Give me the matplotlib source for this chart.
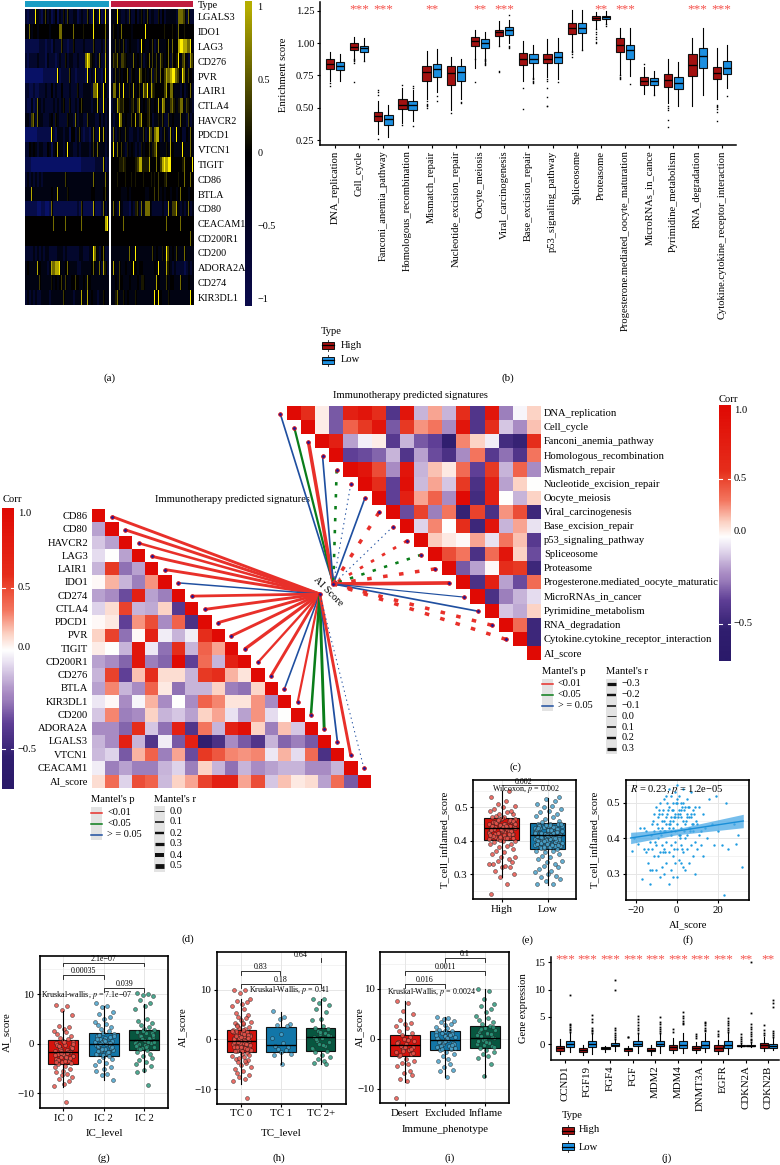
import numpy as np
import matplotlib
matplotlib.use("Agg")
import matplotlib.pyplot as plt
from matplotlib.colors import LinearSegmentedColormap
from matplotlib.patches import Rectangle

plt.rcParams['font.family'] = ['Liberation Serif', 'DejaVu Serif']
plt.rcParams['mathtext.fontset'] = 'stix'
W, H = 780, 1165
fig = plt.figure(figsize=(W/100, H/100), dpi=100)

# ---------- panel a data ----------
heat_genes = ['LGALS3','IDO1','LAG3','CD276','PVR','LAIR1','CTLA4','HAVCR2','PDCD1','VTCN1','TIGIT','CD86','BTLA','CD80','CEACAM1','CD200R1','CD200','ADORA2A','CD274','KIR3DL1']
heat_low = [
"212229321362312413252622331232262193291292","437344344444344447744444744445444494444473",
"111111122212213222622122522223222262223272","212222322213222123225233223222798532372282",
"000000000111111191222262212222192329221392","221121122232242322422232225223333277932932",
"211312732322223232352252232463333233822923","332672733222342532222533272332263332242323",
"000000111111192133323314423621221372293823","224343233224313483323933223233332363733323",
"111000000000000000000000000011111112222812","232323232333333333336333333333333373333373",
"333833333333343383333533333333333443333463","111111001100171111111111112161111181112723",
"444444444444447444447444444474444444444489","444444444444444444444444444444444444444444",
"222232323233222233323222222332223397324722","343333843332387889334733332233333473372852",
"333333363333353434636334464334374333333333","232323223333233333363333233383383433233533"]
heat_high = [
"333932232622423523623322524233333277762722","354347444434444449444444444544454374454444",
"336353623433323943343623733347374489988793","365736653337343623473636375347264593673286",
"236353447254338645347256374687899763973643","377383933538346386938654444684773332423472",
"233865644356368343563343838733675357736532","323397343364836844564233536226343337332623",
"272353363223323362386378823632823934224373","393746325343232534463568433353843333933373",
"444455654444568855584447468989944444574449","444544454454544454445454644564444454474474",
"444443334344444443344464634344344347444344","373283222132562737773222223228366832323723",
"444444744444444444444444444474444447444444","444444444444444444444444444444444444444474",
"333333333733933333333634335396343633373333","383363343349434433333343933385323222212323",
"334364333433343553333338433363443337333433","335733534333533333333394943335333333333394"]
heat_levels = [-.85,-.6,-.38,-.15,0,.1,.25,.45,.7,1]

# ---------- panel b data ----------
path_names = ['DNA_replication','Cell_cycle','Fanconi_anemia_pathway','Homologous_recombination','Mismatch_repair','Nucleotide_excision_repair','Oocyte_meiosis','Viral_carcinogenesis','Base_excision_repair','p53_signaling_pathway','Spliceosome','Proteasome','Progesterone.mediated_oocyte_maturation','MicroRNAs_in_cance','Pyrimidine_metabolism','RNA_degradation','Cytokine.cytokine_receptor_interaction']
path_stars = ['','***','***','','**','','**','***','','','','**','***','','','***','***']
path_high = [
(.71,.80,.84,.875,.93,[.665,.69]),(.88,.95,.97,1.0,1.05,[.70,.85,.86,.87,.88]),(.30,.40,.435,.47,.55,[.26,.60,.62,.64]),
(.38,.49,.525,.565,.65,[.365,.68]),(.57,.71,.78,.82,.94,[.50,.51,.52,.53,.55]),(.48,.68,.77,.825,.89,[.46]),
(.805,.98,1.02,1.045,1.10,[.70,.875]),(.985,1.06,1.085,1.105,1.17,[.78,.785,.98]),(.71,.835,.875,.925,1.02,[.49,.655]),
(.74,.845,.88,.915,1.035,[.51,.515,.58,.655,.71,.72]),(.945,1.07,1.115,1.16,1.26,[.89,.92,.93,.94]),(1.12,1.18,1.195,1.21,1.24,[1.0,1.01,1.03,1.05,1.07,1.09,1.11]),
(.755,.93,.99,1.04,1.12,[.72,.73,.74,.75]),(.605,.675,.705,.735,.815,[.84]),(.535,.66,.715,.76,.88,[.35,.405,.48,.50,.515]),
(.51,.745,.835,.92,1.04,[]),(.57,.72,.77,.815,.96,[.40,.47,.49,.505,.515,.525])]
path_low = [
(.705,.79,.825,.855,.92,[]),(.87,.935,.96,.98,1.04,[.86]),(.275,.365,.41,.44,.525,[]),
(.40,.48,.52,.55,.64,[.36,.65,.67]),(.62,.74,.80,.84,.955,[.55,.59]),(.57,.71,.775,.82,.88,[.535,.545]),
(.855,.965,1.0,1.03,1.09,[.83,.84,.85,.86,.87,.88]),(1.0,1.065,1.10,1.125,1.18,[.96,.97,.98,1.22]),(.725,.85,.88,.92,.99,[.695,.70,.71,.72,.73]),
(.725,.85,.89,.935,1.04,[.70]),(.95,1.08,1.115,1.16,1.26,[.945]),(1.15,1.19,1.205,1.215,1.25,[1.13,1.15]),
(.745,.88,.945,.99,1.115,[.685]),(.61,.68,.705,.73,.785,[.60]),(.515,.645,.695,.74,.855,[]),
(.60,.805,.90,.965,1.12,[]),(.655,.76,.81,.86,.985,[.59])]

# ---------- panel c data ----------
c_names = ['DNA_replication','Cell_cycle','Fanconi_anemia_pathway','Homologous_recombination','Mismatch_repair','Nucleotide_excision_repair','Oocyte_meiosis','Viral_carcinogenesis','Base_excision_repair','p53_signaling_pathway','Spliceosome','Proteasome','Progesterone.mediated_oocyte_maturatic','MicroRNAs_in_cancer','Pyrimidine_metabolism','RNA_degradation','Cytokine.cytokine_receptor_interaction','AI_score']
c_corr = [
[1,.85,.08,-.5,.9,.95,.85,-.7,.95,-.2,.35,-.2,.85,-.7,.95,-.35,-.03,.2],
[1,.08,-.5,.6,.8,.95,-.5,.8,.4,.5,-.3,.95,-.7,.85,-.15,-.3,.25],
[1,.9,-.25,-.04,.08,-.65,-.2,-.5,-.6,-.95,.45,.2,-.05,-.8,-.9,.85],
[1,-.6,-.55,-.45,-.2,-.7,-.25,-.55,-.75,-.3,.5,-.65,-.4,-.7,.5],
[1,.95,.7,-.3,.95,-.2,.25,.1,.55,-.6,.8,-.2,.6,-.3],
[1,.85,-.6,.97,-.18,.35,-.15,.8,-.75,.9,-.25,.2,0],
[1,-.6,.9,.35,.6,-.3,1.,-.8,.9,0,-.2,.2],
[1,-.55,.75,-.35,.5,-.9,.75,-.75,.4,.7,-.85],
[1,-.12,.45,0,.85,-.85,.95,-.2,.35,-.08],
[1,.22,.1,.03,.35,-.08,.5,.25,-.65],
[1,.7,.5,-.75,.55,.95,.2,-.55],
[1,-.5,-.25,.03,.85,.8,-.85],
[1,-.75,.9,-.25,-.55,.55],
[1,-.75,-.35,-.2,-.1],
[1,-.15,-.22,.2],
[1,.55,-.85],
[1,-.85],
[1]]
c_link_p = list("bgrbgbbrbrgrrbbrr")
c_link_r = [.1,.16,.3,.1,-.2,-.03,.1,-.3,-.03,-.22,-.2,-.3,.32,.04,.1,-.3,-.3]

# ---------- panel d data ----------
d_names = ['CD86','CD80','HAVCR2','LAG3','LAIR1','IDO1','CD274','CTLA4','PDCD1','PVR','TIGIT','CD200R1','CD276','BTLA','KIR3DL1','CD200','ADORA2A','LGALS3','VTCN1','CEACAM1','AI_score']
d_corr = [[1],[-.25,1],[-.15,-.25,1],[-.1,0,-.25,1],[-.2,.8,-.4,-.25,1],[.03,.3,-.2,-.35,.4,1],
[-.25,-.3,-.55,.9,-.25,-.35,1],[-.12,.15,.75,-.2,-.22,.2,-.65,1],[.03,.1,-.6,.4,.7,-.3,.6,-.75,1],
[.2,.75,-.4,.03,.9,-.05,-.2,-.05,.85,1],[.08,0,-.2,.95,-.07,-.4,.85,-.2,.6,.35,1],
[-.25,-.3,-.45,.95,-.35,-.45,1,-.6,.55,-.2,.9,1],[-.2,.75,-.6,.25,.85,.15,.15,-.2,.8,.85,.3,.12,1],
[-.25,.45,-.2,-.3,.6,.1,-.4,-.2,-.2,.2,-.35,-.4,.18,1],[-.07,.03,-.3,-.03,.3,-.3,0,-.3,.6,.45,.12,.12,.4,-.3,1],
[-.15,.45,-.35,-.3,.2,-.2,-.15,-.25,.2,.35,-.08,-.25,.4,-.1,0,1],
[-.3,-.3,-.45,.85,-.15,-.4,.9,-.7,.5,-.2,.9,.97,.2,-.35,.25,-.15,1],
[-.2,-.3,.9,-.2,-.7,-.05,-.5,.9,-.95,-.75,-.3,-.5,-.7,-.2,-.45,-.35,-.5,1],
[-.18,-.12,-.5,.3,.6,-.35,.35,-.55,.8,.65,.45,.4,.45,-.07,.3,-.1,.55,-.75,1],
[-.05,-.35,-.25,-.35,-.35,-.2,-.12,-.35,.2,-.2,-.4,-.2,-.3,-.25,-.2,-.2,-.3,-.3,-.2,1],
[.15,.55,-.12,.7,.6,-.18,.2,.35,.75,.9,.9,.35,.7,-.15,.25,.1,.15,-.25,.55,-.5,1]]
d_link_p = list("rrrrrbrrrrrrrbrggbrb")
d_link_r = [.3,.3,.25,.3,.3,.1,.28,.3,.3,.3,.35,.22,.3,.12,.2,.25,.3,.14,.3,-.03]

# ---------- strip/box data (e, g, h, i) ----------
jitter = [-.8,.35,-.15,.9,-.45,.6,.05,-.95,.25,-.6,.75,-.3,.5,-.05,1.,-.7,.15,-.4,.85,-.2,.4,-.85,.65,-.55,.1,.95,-.25,.3,-.75,.55,-.1,.8,-.5,.2,-.9,.7,0]
e_groups = ['High','Low']
e_stats = [(.29,.401,.438,.467,.548),(.268,.375,.417,.453,.528)]
e_high = [.24,.27,.29,.30,.31,.32,.32,.33,.325,.33,.335,.34,.345,.35,.35,.36,.365,.37,.375,.38,.385,.39,.39,.395,.40,.40,.405,.41,.41,.415,.415,.42,.42,.425,.425,.43,.43,.435,.435,.44,.44,.44,.445,.445,.45,.45,.455,.455,.46,.46,.465,.465,.47,.47,.475,.48,.48,.485,.49,.49,.495,.50,.505,.51,.52,.53,.55,
.403,.407,.412,.418,.422,.427,.432,.437,.441,.447,.452,.457,.462,.467,.404,.409,.414,.419,.424,.429,.434,.439,.443,.449,.454,.459,.464,.408,.416,.428,.436,.442,.451,.461,.444,.431,.421,.411]
e_low = [.27,.27,.28,.285,.29,.295,.30,.305,.31,.315,.32,.325,.33,.335,.34,.345,.35,.355,.36,.365,.37,.37,.375,.38,.38,.385,.385,.39,.39,.395,.395,.40,.40,.405,.405,.41,.41,.415,.415,.42,.42,.42,.425,.425,.43,.43,.435,.435,.44,.44,.445,.445,.45,.45,.455,.46,.465,.47,.475,.48,.485,.49,.495,.50,.505,.51,.52,.525,.53,
.378,.382,.387,.392,.397,.402,.407,.412,.417,.422,.427,.432,.437,.442,.447,.451,.379,.384,.389,.394,.399,.404,.409,.414,.419,.424,.429,.434,.439,.444,.449,.381,.386,.391,.396,.401,.406,.411,.416,.421,.426,.431,.436,.441,.446,.383,.393,.403,.413,.423,.433,.443,.388,.398,.408,.418,.428,.438,.448]

g_groups = ['IC 0','IC 2','IC 2']
g_stats = [(-8.7,-4,-1.7,.7,6.5),(-7.4,-2.4,0,2.1,7.5),(-5.7,-1.2,.7,2.7,8)]
g_a = [7.7,7.6,6.7,5.8,3.5,3.3,2.9,2.6,2.3,1.9,1.5,1.2,.9,.6,.3,.1,-.3,-.5,-.8,-1,-1.3,-1.5,-1.7,-2,-2.2,-2.4,-2.7,-2.9,-3.2,-3.4,-3.6,-3.9,-4.1,-4.4,-4.7,-5,-5.4,-5.7,-6.1,-6.3,-6.8,-7.2,-7.6,-8.2,-8.5,-11.7,
-.2,-.7,-1.1,-1.6,-2.1,-2.5,-3,-3.5,-.4,-.9,-1.4,-1.9,-2.3,-2.8,-3.3,.4,-.1,-1.8,-2.6,-3.7]
g_b = [8.2,7.6,7.3,6.4,6,5.4,4.9,4.4,4,3.7,3.3,2.9,2.6,2.2,1.9,1.5,1.2,.9,.6,.3,.1,-.2,-.5,-.7,-1,-1.2,-1.5,-1.8,-2.1,-2.4,-2.7,-3,-3.4,-3.9,-4.2,-4.6,-5,-5.5,-6.1,-6.3,-7.4,
1.8,1.3,.8,.4,0,-.4,-.8,-1.3,-1.7,-2.2,1.6,1,.5,-.1,-.6,-1.1,-1.6,-2,.2,-1.4]
g_c = [10.2,10,9.7,9.6,8.8,8.2,7.6,6.9,5,4.5,4.2,3.8,3.4,3,2.7,2.4,2.1,1.7,1.4,1.1,.8,.5,.2,0,-.3,-.6,-.9,-1.2,-1.6,-2,-2.4,-2.8,-3.2,-3.6,-4,-4.5,-5.2,-5.7,-8.3,
2.5,2,1.5,1,.6,.1,-.4,-.8,2.2,1.6,1.2,.7,.3,-.2,-.7,-1.1,1.8,.9,.4,-.5]

h_groups = ['TC 0','TC 1','TC 2+']
h_stats = [(-9,-2.5,-.4,1.9,8),(-5,-2.5,-1.2,2.5,5.5),(-5,-2.3,.4,2.3,8)]
h_a = [10,9.8,9.3,8,7.7,7.4,7,6.6,6,5.3,4.8,4.5,4.2,3.8,3.5,3.3,3,2.8,2.5,2.3,2,1.8,1.5,1.3,1,.8,.6,.4,.2,0,-.2,-.4,-.6,-.8,-1,-1.2,-1.4,-1.6,-1.8,-2,-2.2,-2.4,-2.7,-3,-3.3,-3.6,-3.9,-4.2,-4.5,-4.8,-5.2,-5.6,-6,-6.4,-6.8,-7.2,-7.6,-8,-8.4,-11.8,
1.7,1.2,.7,.3,-.1,-.5,-.9,-1.3,-1.7,-2.1,1.9,1.4,.9,.5,.1,-.3,-.7,-1.1,-1.5,-1.9,-2.3,1.6,1.1,.6,.2,-.6,-1,-1.6,-2.2,-2.4,3.2,2.6,-3.1,-3.8,-4.4]
h_b = [5.6,4.4,4.1,3,2.8,2.6,1,.2,-.7,-1.3,-1.5,-1.9,-2.2,-2.6,-3,-3.2,-5]
h_c = [8.1,8,7.2,6.8,6,5.4,4,3.9,2.6,2.3,2,1.7,1.3,1,.7,.4,.2,-.3,-.6,-.9,-1.4,-1.9,-2.3,-2.6,-3.2,-3.5,-3.9,-4.3,-4.7,-5,1.5,.8,.1,-1.1,-1.7]

i_groups = ['Desert','Excluded','Inflame']
i_stats = [(-8.5,-3.3,-1.1,.8,7.7),(-7.5,-2.1,-.1,1.7,4.5),(-7.5,-1.8,.3,2.6,10)]
i_a = [7.7,7.3,5.6,5,3.9,3.3,3,2.7,2.2,1.7,1.3,.9,.5,.1,-.3,-.6,-1,-1.3,-1.6,-1.9,-2.2,-2.6,-3,-3.4,-3.9,-4.3,-4.8,-5,-5.3,-6.3,-6.7,-7.1,-7.9,-8.3,-11.8,-2,-1.5,-.8,-.2,-2.4,-2.8,-3.1]
i_b = [4.5,4.2,4,3.7,3.4,3.1,2.8,2.5,2.2,1.9,1.6,1.3,1,.7,.4,.1,-.1,-.4,-.7,-1,-1.3,-1.6,-1.9,-2.2,-2.6,-3,-3.4,-3.9,-4.4,-5,-5.6,-6.2,-6.4,-7.5,
1.5,1.1,.6,.2,-.2,-.6,-1,-1.4,-1.8,1.7,.9,.3,-.5,-1.2,-2,.8,-.3,-1.7]
i_c = [10,9.7,8.1,7.1,6.6,6.1,5.4,4.7,4.3,3.9,3.5,3.1,2.7,2.3,1.9,1.5,1.1,.7,.3,-.1,-.5,-.9,-1.3,-1.7,-2.1,-2.5,-2.9,-3.3,-3.7,-5,-7.4,
2.4,1.8,1.3,.9,.5,.1,-.3,-.7,-1.1,-1.5,2,1,-.6]

# ---------- panel f data ----------
f_x = [-22,-21,-19,-18,-17,-16,-16,-15,-15,-14,-14,-13,-13,-13,-12,-12,-12,-11,-11,-11,-10,-10,-10,-9,-9,-9,-9,-8,-8,-8,-8,-7,-7,-7,-7,-6,-6,-6,-6,-5,-5,-5,-5,-5,-4,-4,-4,-4,-4,-3,-3,-3,-3,-3,-2,-2,-2,-2,-2,-1,-1,-1,-1,-1,0,0,0,0,0,1,1,1,1,2,2,2,2,2,3,3,3,3,4,4,4,4,5,5,5,6,6,6,7,7,7,8,8,8,9,9,9,10,10,11,11,12,12,13,13,14,15,16,17,18,19,20,22,23,24,25,28,29,30,32,
-12.5,-11.5,-9.5,-8.5,-7.5,-6.5,-5.5,-4.5,-3.5,-2.5,-1.5,-.5,.5,1.5,2.5,3.5,4.5,5.5,6.5,7.5,8.5,9.5,-10.5,-7.2,-6.2,-4.2,-3.2,-1.2,.8,1.8,3.2,4.8,6.2,8.2,-8.8,-5.8,-2.8,.2,2.2,5.2,-6.6,-3.6,-.6,1.4,3.6,6.6,-4.8,-1.8,2.8,7.2]
f_y = [.365,.40,.385,.43,.285,.43,.37,.42,.36,.37,.33,.39,.31,.27,.37,.44,.31,.47,.35,.42,.49,.38,.31,.43,.35,.46,.40,.50,.36,.42,.29,.45,.32,.47,.38,.37,.42,.51,.30,.39,.46,.52,.33,.44,.43,.36,.49,.54,.27,.31,.41,.46,.52,.38,.35,.45,.50,.43,.29,.39,.33,.47,.53,.42,.44,.37,.50,.29,.55,.41,.34,.48,.52,.46,.33,.38,.50,.43,.45,.36,.54,.32,.40,.49,.31,.44,.37,.47,.51,.43,.33,.49,.38,.46,.53,.42,.48,.35,.30,.39,.49,.44,.37,.49,.41,.42,.38,.47,.35,.43,.40,.51,.44,.38,.52,.42,.38,.24,.50,.37,.44,.385,.41,.32,
.41,.45,.44,.48,.41,.48,.42,.47,.45,.48,.46,.50,.46,.47,.49,.42,.45,.49,.42,.44,.47,.45,.39,.43,.45,.48,.44,.37,.47,.41,.50,.41,.46,.44,.47,.36,.42,.51,.48,.46,.36,.44,.46,.40,.48,.43,.50,.48,.37,.47]
f_line_x = [-22.5,32.5]
f_line_y = [.401,.449]
f_band_x = [-22.5,0,32.5]
f_band_lo = [.385,.41,.43]
f_band_hi = [.417,.427,.468]

# ---------- panel j data ----------
j_genes = ['CCND1','FGF19','FGF4','FGF','MDM2','MDM4','DNMT3A','EGFR','CDKN2A','CDKN2B']
j_stars = ['***']*8+['**','**']
j_high = [(-1.8,-1.2,-.7,-.4,1,[]),(-2,-1.4,-1.05,-.7,-.2,[]),(-1.4,-.95,-.75,-.55,-.3,[]),(-2,-1.3,-1,-.65,-.3,[1.2,1.3]),(-2,-1.35,-1.05,-.75,-.2,[]),
(-1.7,-1.1,-.6,-.2,1.1,[2.2,2.7]),(-1.6,-1.1,-.7,-.35,.4,[1.1,1.4,1.8]),(-1.8,-1.2,-.7,-.25,.8,[1.5,1.9,2.4]),(-.5,-.4,-.3,-.2,0,[.2,.5,.9,1.3,1.8]),(-1.2,-.65,-.2,.2,1.2,[1.6,2,2.5,3.5])]
j_low = [(-1.5,-.6,0,.5,2,[2.2,2.5,2.8,3.1,3.4,3.6,9]),(-1.8,-.5,0,.5,1.9,[2,2.3,2.6,2.9,4.1,4.6,5.4]),(-1.2,-.4,-.1,.2,.9,[1,1.3,1.6,2,2.5,3,10,11.7]),(-1.7,-.45,0,.5,1.9,[2.1,2.5,3,3.5,4,4.5,5.2]),(-1.7,-.4,0,.5,1.8,[2,2.4,2.8,3.2,3.6,4,5]),
(-1.6,-.8,-.1,.5,2,[3.6,3.9,4.3,4.8,5.2,5.8]),(-1.5,-.8,-.1,.5,2,[2.3,2.6,3,3.4,3.8,4]),(-1.8,-.7,-.1,.5,2,[2.2,2.6,3,3.4,3.9,4.3,4.7]),(-.5,-.4,-.3,-.15,.1,[.3,.7,1,1.4,1.8,2.2,2.7,3.2,3.7,5.6,15.1]),(-1.1,-.8,-.4,0,1.1,[1.3,1.6,2,2.4,6.7,7.5,8])]

# ---------- style ----------
HIGH, LOW = '#a2100f', '#1c8fe0'
STRIP_BOX = ['#d5120c', '#1276a8', '#07563f']
STRIP_PT = ['#e8564d', '#4aa3cc', '#2f9a7e']
STAR = '#f5504a'
heat_cmap = LinearSegmentedColormap.from_list('h', ['#0a1478', '#000000', '#ffee00'])
corr_cmap = LinearSegmentedColormap.from_list('c', [((v+1)/2, col) for v, col in [
    (-1, '#2a1a6a'), (-.6, '#5f3f96'), (-.3, '#a98cc4'), (-.1, '#e5dcef'), (0, '#ffffff'),
    (.2, '#fcd3c5'), (.5, '#f4765f'), (.8, '#e83a24'), (1, '#e00a04')]])
LINK = {'r': '#e8302a', 'g': '#0a7d1a', 'b': '#1f4fa0'}
T, TS, TM = 7.6, 5.8, 7.8


def axpx(l, t, r, b):
    return fig.add_axes([l/W, 1-b/H, (r-l)/W, (b-t)/H])


ov = fig.add_axes([0, 0, 1, 1], zorder=10)
ov.patch.set_alpha(0)
ov.axis('off')


def txt(x, y, s, size=T, ha='left', va='center', **kw):
    ov.text(x, y, s, fontsize=size, ha=ha, va=va, **kw)


def boxes(ax, pos, stats, cols, width, lw=.8, fl=1.0):
    for p, st, c in zip(pos, stats, cols):
        fliers = st[5] if len(st) > 5 else []
        ax.bxp([dict(whislo=st[0], q1=st[1], med=st[2], q3=st[3], whishi=st[4], fliers=fliers)],
               positions=[p], widths=width, patch_artist=True, showcaps=False, manage_ticks=False,
               boxprops=dict(facecolor=c, edgecolor='#111111', lw=lw),
               medianprops=dict(color='black', lw=lw*1.2, zorder=6),
               whiskerprops=dict(color='black', lw=lw, zorder=5),
               flierprops=dict(marker='s', ms=fl, mfc='black', mec='black', mew=0))


def strip(ax, p, ys, col, spread=.26):
    xs = [p + spread*jitter[i % len(jitter)] for i in range(len(ys))]
    ax.scatter(xs, ys, s=8, facecolor=col, edgecolor='#1b1b1b', linewidth=.35, alpha=.85, zorder=4)


def minimal(ax):
    for s in ['top', 'right']:
        ax.spines[s].set_visible(False)
    for s in ['left', 'bottom']:
        ax.spines[s].set_linewidth(1.1)
    ax.tick_params(length=2.5, width=.8, labelsize=T, pad=1.5)


def frame(ax, xticks, xlabels, yticks, ylabels, minor=None):
    for s in ax.spines.values():
        s.set_linewidth(1.2)
    ax.set_xticks(xticks, xlabels)
    ax.set_yticks(yticks, ylabels)
    ax.tick_params(length=2.5, width=.8, labelsize=TM, pad=1.5)
    ax.grid(True, color='#e6e6e6', lw=.7)
    if minor is not None:
        for m in minor:
            ax.axhline(m, color='#efefef', lw=.5, zorder=0)
    ax.set_axisbelow(True)


def bracket(x0, x1, y, label, drop=3.5):
    ov.plot([x0, x0, x1, x1], [y+drop, y, y, y+drop], color='#111111', lw=.6)
    txt((x0+x1)/2, y-3.8, label, TS, ha='center')


def key_box(x, y, c):
    ov.plot([x, x], [y-5.5, y+5.5], color='#222222', lw=.6)
    ov.add_patch(Rectangle((x-6, y-3.5), 12, 7, fc=c, ec='#111111', lw=.7, zorder=3))
    ov.plot([x-6, x+6], [y, y], color='black', lw=.9, zorder=4)


def gradient(l, t, r, b, stops_px, stops_val):
    ys = np.arange(t, b+1)
    vals = np.interp(ys, stops_px, stops_val).reshape(-1, 1)
    ov.imshow(vals, cmap=corr_cmap, vmin=-1, vmax=1, extent=(l, r, b, t), aspect='auto', zorder=2)


def links(cx, cy, nx, ny, ps, rs, k):
    for x, y, p, r in zip(nx, ny, ps, rs):
        wpx = .8 + k*abs(r)
        ls = '-' if r >= 0 else (0, (1.3, 3.3))
        ov.plot([x, cx], [y, cy], color=LINK[p], lw=wpx*.72, ls=ls, solid_capstyle='butt', dash_capstyle='butt', zorder=5)
    ov.scatter(nx, ny, s=7, facecolor='#1a1a9a', edgecolor='#e01010', linewidth=.6, zorder=6)
    ov.scatter([cx], [cy], s=7, facecolor='#1a1a9a', edgecolor='#e01010', linewidth=.6, zorder=7)


def mantel(x_p, x_r, y0, ps_y, r_labels, r_vals, r_y, step=11):
    txt(x_p, y0, "Mantel's p", T)
    for i, (lab, c) in enumerate(zip(['<0.01', '<0.05', '> = 0.05'], ['r', 'g', 'b'])):
        y = ps_y + i*step
        ov.add_patch(Rectangle((x_p, y-5.5), 11, 11, fc='#e3e3e3', ec='none', zorder=2))
        ov.plot([x_p, x_p+11], [y, y], color=LINK[c], lw=1.1, zorder=3)
        txt(x_p+16, y, lab, T-.2)
    txt(x_r, y0, "Mantel's r", T)
    for i, (lab, v) in enumerate(zip(r_labels, r_vals)):
        y = r_y + i*step
        ov.add_patch(Rectangle((x_r, y-5.5), 11, 11, fc='#e3e3e3', ec='none', zorder=2))
        ov.plot([x_r+1, x_r+10], [y, y], color='#111111', lw=(.8+8*abs(v))*.72, solid_capstyle='butt', zorder=3)
        txt(x_r+16, y, lab, T-.2)


# ---------- a ----------
def heat_mat(rows):
    m0 = np.array([[heat_levels[int(ch)] for ch in row.ljust(42, '4')[:42]] for row in rows])
    out = np.repeat(m0, 2, axis=1)
    nxt = np.roll(m0, -1, axis=1)
    out[:, 1::2] = np.where(m0 > 0, np.minimum(m0, np.maximum(nxt, 0)), m0)
    return out


ov.imshow(heat_mat(heat_low), cmap=heat_cmap, vmin=-1, vmax=1, extent=(25, 108.7, 305, 9), aspect='auto', interpolation='nearest')
ov.imshow(heat_mat(heat_high), cmap=heat_cmap, vmin=-1, vmax=1, extent=(110.5, 193, 305, 9), aspect='auto', interpolation='nearest')
ov.add_patch(Rectangle((25, 1), 83.7, 6.3, fc='#1a9dc4', ec='none'))
ov.add_patch(Rectangle((110.5, 1), 82.5, 6.3, fc='#c01c3f', ec='none'))
txt(198, 5, 'Type', 7.3)
for i, g in enumerate(heat_genes):
    txt(198, 18+14.75*i, g, 7.3)
acb = axpx(245, 1, 252, 306)
acb.imshow(np.linspace(1.04, -1.05, 200).reshape(-1, 1), aspect='auto', extent=(0, 1, -1.05, 1.04),
           cmap=LinearSegmentedColormap.from_list('hb', ['#0a0a4a', '#000000', '#b5ad00']), vmin=-1, vmax=1)
acb.set_xticks([])
acb.yaxis.tick_right()
acb.set_yticks([-1, -.5, 0, .5, 1], ['−1', '−0.5', '0', '0.5', '1'])
acb.tick_params(length=0, labelsize=7.3, pad=4)
for s in acb.spines.values():
    s.set_visible(False)

# ---------- b ----------
axb = axpx(320, 2, 736, 145)
n = len(path_names)
boxes(axb, np.arange(n)-.21, path_high, [HIGH]*n, .34)
boxes(axb, np.arange(n)+.21, path_low, [LOW]*n, .34)
axb.set_xlim(-.62, n-1+.59)
axb.set_ylim(.25-5/129, 1.25+9/129)
axb.set_xticks(range(n), path_names, rotation=90)
axb.set_yticks([.25, .5, .75, 1, 1.25], ['0.25', '0.50', '0.75', '1.00', '1.25'])
minimal(axb)
txt(284, 75, 'Enrichment score', T, ha='center', rotation=90)
for i, s in enumerate(path_stars):
    if s:
        ov.text(335+24.17*i, 9.5, s, fontsize=9.5, color=STAR, ha='center', va='center')
txt(321, 331, 'Type')
key_box(328, 345, HIGH)
key_box(328, 360, LOW)
txt(341, 345, 'High')
txt(341, 360, 'Low')
txt(109, 378, '(a)', TM, ha='center')
txt(508, 378, '(b)', TM, ha='center')

# ---------- c ----------
cl, ct, cs = 287.3, 406.7, 14.1
cm = np.full((18, 18), np.nan)
for i, row in enumerate(c_corr):
    cm[i, i:] = row
ov.imshow(np.ma.masked_invalid(cm), cmap=corr_cmap, vmin=-1, vmax=1, extent=(cl, cl+18*cs, ct+18*cs, ct), aspect='auto', interpolation='nearest')
for i, nm in enumerate(c_names):
    txt(544, ct+cs*(i+.5), nm)
links(333.3, 584, [cl+cs*(i-.5) for i in range(17)], [ct+cs*(i+.5) for i in range(17)], c_link_p, c_link_r, 9)
txt(410, 396, 'Immunotherapy predicted signatures', T, ha='center')
txt(719, 399, 'Corr', T)
gradient(719, 405, 731, 660.7, [405, 470, 500, 537, 580, 630, 661], [1, .85, .5, 0, -.35, -.95, -1])
for y, lab in [(410.7, '1.0'), (478.7, '0.5'), (531.7, '0.0'), (624, '−0.5')]:
    txt(734, y, lab, T)
    if lab in ('0.5', '−0.5'):
        ov.plot([719, 722], [y, y], color='white', lw=.8, zorder=4)
        ov.plot([728, 731], [y, y], color='white', lw=.8, zorder=4)
mantel(542, 606, 672, 684, ['−0.3', '−0.2', '−0.1', '0.0', '0.1', '0.2', '0.3'], [-.3, -.2, -.1, 0, .1, .2, .3], 684, 10.8)
txt(515, 767, '(c)', TM, ha='center')

# ---------- d ----------
dl, dt, ds = 92.3, 510, 13.25
dm = np.full((21, 21), np.nan)
for i, row in enumerate(d_corr):
    dm[i, :i+1] = row
ov.imshow(np.ma.masked_invalid(dm), cmap=corr_cmap, vmin=-1, vmax=1, extent=(dl, dl+21*ds, dt+21*ds, dt), aspect='auto', interpolation='nearest')
for i, nm in enumerate(d_names):
    txt(88, dt+ds*(i+.5), nm, ha='right')
links(319.7, 594, [dl+ds*(i+1.5) for i in range(20)], [dt+ds*(i+.5) for i in range(20)], d_link_p, d_link_r, 7)
txt(232, 499, 'Immunotherapy predicted signatures', T, ha='center')
txt(3, 500, 'Corr', T)
gradient(2, 508, 14, 789, [508, 575, 610, 650, 700, 757, 789], [1, .85, .5, 0, -.35, -.95, -1])
for y, lab in [(514, '1.0'), (588, '0.5'), (648, '0.0'), (749, '−0.5')]:
    txt(18, y, lab, T)
    if lab in ('0.5', '−0.5'):
        ov.plot([2, 5], [y, y], color='white', lw=.8, zorder=4)
        ov.plot([11, 14], [y, y], color='white', lw=.8, zorder=4)
mantel(91, 154, 800, 812.7, ['0.0', '0.1', '0.2', '0.3', '0.4', '0.5'], [0, .1, .2, .3, .4, .5], 811, 11)
txt(188, 939, '(d)', TM, ha='center')
txt(328, 592, 'AI Score', T, ha='center', rotation=-45, rotation_mode='anchor')

# ---------- e ----------
axe = axpx(473.3, 780, 576, 899.3)
frame(axe, [0, 1], e_groups, [.3, .4, .5], ['0.3', '0.4', '0.5'], minor=[.25, .35, .45, .55])
boxes(axe, [0, 1], e_stats, ['#d5120c', '#1276a8'], .76, .8)
strip(axe, 0, e_high, STRIP_PT[0], .3)
strip(axe, 1, e_low, STRIP_PT[1], .3)
axe.set_xlim(-.617, 1.615)
axe.set_ylim(.3-25.3/333.5, .5+27.3/333.5)
txt(445, 839, 'T_cell_inflamed_score', T, ha='center', rotation=90)
txt(526, 789, 'Wilcoxon, $p$ = 0.002', TS, ha='center')
txt(524, 781.5, '0.002', TS, ha='center')
ov.plot([501.7, 547.7], [784.5, 784.5], color='#111111', lw=.5)
txt(527, 940, '(e)', TM, ha='center')

# ---------- f ----------
axf = axpx(625.7, 780, 749, 900)
frame(axf, [-20, 0, 20], ['−20', '0', '20'], [.3, .4, .5], ['0.3', '0.4', '0.5'], minor=[.25, .35, .45, .55])
axf.scatter(f_x, f_y, s=3, color='#1e9be0', linewidth=0, zorder=3)
axf.fill_between(f_band_x, f_band_lo, f_band_hi, color='#4aa9e6', alpha=.75, lw=0, zorder=4)
axf.plot(f_line_x, f_line_y, color='#1a8fd8', lw=1, zorder=5)
axf.set_xlim(-24.9, 35.3)
axf.set_ylim(.2255, .565)
txt(595, 839, 'T_cell_inflamed_score', T, ha='center', rotation=90)
txt(688, 925, 'AI_score', T, ha='center')
txt(630, 789, '$R$ = 0.23, $p$ = 1.2e−05', T)
txt(688, 940, '(f)', TM, ha='center')


# ---------- g h i ----------
def tri(box, x0, dx, y0, py, groups, stats, data, width, xlabel, labx, laby, ylx, yly):
    ax = axpx(*box)
    l, t, r, b = box
    frame(ax, [0, 1, 2], groups, [-10, 0, 10], ['−10', '0', '10'], minor=[-5, 5, 15])
    boxes(ax, [0, 1, 2], stats, STRIP_BOX, width, .8)
    for i, ys in enumerate(data):
        strip(ax, i, ys, STRIP_PT[i], .24)
    ax.set_xlim((l-x0)/dx, (r-x0)/dx)
    ax.set_ylim((y0-b)/py, (y0-t)/py)
    txt(ylx, yly, 'AI_score', TM, ha='center', rotation=90)
    txt(labx, laby, xlabel, TM, ha='center')
    return ax


tri((39.7, 955.7, 168.3, 1108.3), 63.3, 40.5, 1043.7, 4.97, g_groups, g_stats, [g_a, g_b, g_c], .74, 'IC_level', 104, 1133, 7, 1032)
bracket(63.3, 144.3, 962.7, '2.1e−07')
bracket(63.3, 104.3, 975, '0.00035')
bracket(104.3, 144.3, 988, '0.039')
txt(41, 995, 'Kruskal-wallis, $p$ = 7.1e−07', TS)
txt(104, 1158, '(g)', TM, ha='center')

tri((216.7, 951.7, 345.7, 1103.7), 241.3, 39.7, 1039.3, 4.98, h_groups, h_stats, [h_a, h_b, h_c], .74, 'TC_level', 281, 1133, 183, 1027)
txt(300.7, 955, '0.64', TS, ha='center')
ov.plot([320.7, 320.7], [958, 962], color='#111111', lw=.6)
bracket(241.3, 280.3, 971, '0.83')
bracket(241.3, 320.7, 984, '0.18')
txt(249.3, 990, 'Kruskal-Wallis, $p$ = 0.41', TS)
txt(279, 1158, '(h)', TM, ha='center')

tri((380.3, 951.7, 509, 1103.3), 404.7, 40.3, 1039, 5.0, i_groups, i_stats, [i_a, i_b, i_c], .74, 'Immune_phenotype', 445, 1129, 360, 1027)
bracket(445, 485.3, 958, '0.1')
bracket(404.7, 485.3, 971, '0.0011')
bracket(404.7, 445, 984, '0.016')
txt(387, 992, 'Kruskal-Wallis, $p$ = 0.0024', TS)
txt(450, 1158, '(i)', TM, ha='center')

# ---------- j ----------
axj = axpx(550.7, 957, 779, 1060)
m = len(j_genes)
boxes(axj, np.arange(m)-.21, j_high, [HIGH]*m, .36, .8, 1.3)
boxes(axj, np.arange(m)+.21, j_low, [LOW]*m, .36, .8, 1.3)
axj.set_xlim((550.7-565)/22.6, (779-565)/22.6)
axj.set_ylim(-16/5.45, 87/5.45)
axj.set_xticks(range(m), j_genes, rotation=90)
axj.set_yticks([0, 5, 10, 15], ['0', '5', '10', '15'])
minimal(axj)
axj.tick_params(labelsize=TM)
txt(523, 1008, 'Gene expression', T, ha='center', rotation=90)
for i, s in enumerate(j_stars):
    ov.text(565+22.6*i, 959.5, s, fontsize=9.5, color=STAR, ha='center', va='center')
txt(562, 1116, 'Type', T)
key_box(567.7, 1130.7, HIGH)
key_box(567.7, 1146.7, LOW)
txt(579, 1130, 'High', T)
txt(579, 1147, 'Low', T)
txt(667, 1158, '(j)', TM, ha='center')

ov.set_xlim(0, W)
ov.set_ylim(H, 0)
fig.savefig('out.png', dpi=100)
